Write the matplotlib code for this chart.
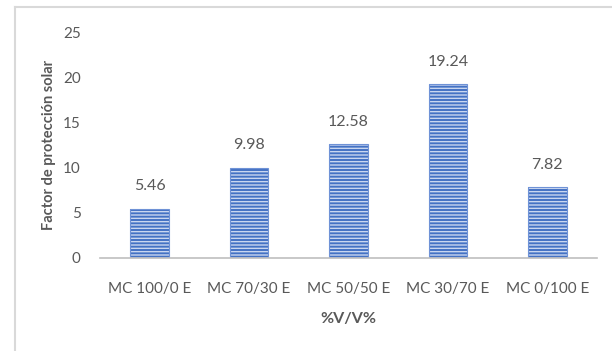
import matplotlib.pyplot as plt
from matplotlib.lines import Line2D

categories = ['MC 100/0 E', 'MC 70/30 E', 'MC 50/50 E', 'MC 30/70 E', 'MC 0/100 E']
fps = [5.46, 9.98, 12.58, 19.24, 7.82]
yticks = [0, 5, 10, 15, 20, 25]

plt.rcParams['font.family'] = ['Lato', 'DejaVu Sans']
plt.rcParams['hatch.color'] = '#c9d6f0'
plt.rcParams['hatch.linewidth'] = 1.0
txt = '#595959'

fig = plt.figure(figsize=(6.12, 3.51), dpi=100)
ax = fig.add_axes([0.1634, 0.265, 0.8121, 0.6438])

x = range(len(categories))
bars = ax.bar(x, fps, width=0.39, color='#4472c4', edgecolor='#c9d6f0',
              linewidth=0, hatch='-----')
ax.bar(x, fps, width=0.39, color='none', edgecolor='#6f92d6', linewidth=0.8)

for xi, v in zip(x, fps):
    ax.text(xi, v + 1.7, f'{v:.2f}', ha='center', va='bottom', fontsize=11.5, color=txt)

ax.set_xlim(-0.5, len(categories) - 0.5)
ax.set_ylim(0, 25)
ax.set_yticks(yticks)
ax.set_xticks(list(x))
ax.set_xticklabels(categories)
ax.tick_params(axis='both', length=0, labelsize=11, colors=txt)
ax.tick_params(axis='y', pad=14)
ax.tick_params(axis='x', pad=17)

for s in ['top', 'right', 'left']:
    ax.spines[s].set_visible(False)
ax.spines['bottom'].set_color('#bfbfbf')
ax.spines['bottom'].set_linewidth(1.2)

ax.set_ylabel('Factor de protección solar', fontsize=10.5, fontweight='bold', color=txt, labelpad=5)
ax.set_xlabel('%V/V%', fontsize=11.5, fontweight='bold', color=txt, labelpad=12)

# chart area border (left and top edges)
fig.add_artist(Line2D([15 / 612, 15 / 612], [0, 1 - 7 / 351], color='#d9d9d9', lw=1.5))
fig.add_artist(Line2D([15 / 612, 1], [1 - 7 / 351, 1 - 7 / 351], color='#d9d9d9', lw=1.5))

fig.savefig('out.png', dpi=100)
